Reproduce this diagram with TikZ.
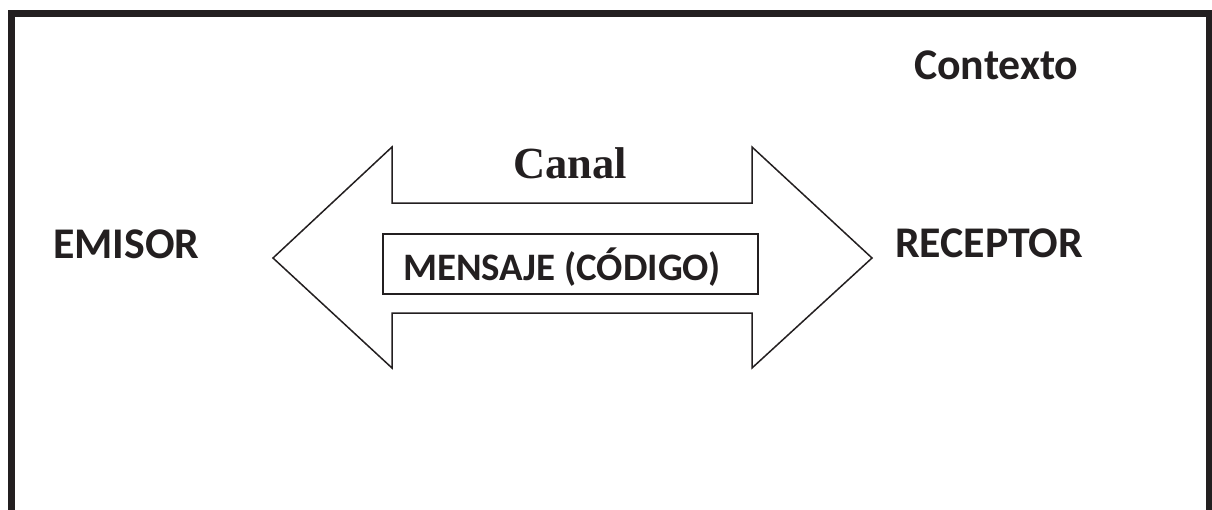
\documentclass[tikz,border=0pt]{standalone}
\usepackage{fontspec}
\setmainfont{Carlito}
\newfontfamily\serifbold{Liberation Serif}
\definecolor{ink}{HTML}{231F20}
\begin{document}
\begin{tikzpicture}[x=1pt,y=-1pt,
  frame/.style={draw=ink,line width=7pt},
  outline/.style={draw=ink,line width=1.5pt,line join=miter},
  label/.style={inner sep=0pt,anchor=base west,text=ink,font=\bfseries\fontsize{43.8}{50}\selectfont},
  canallabel/.style={inner sep=0pt,anchor=base west,text=ink,font=\serifbold\bfseries\fontsize{44.5}{50}\selectfont}]
\useasboundingbox (0,0) rectangle (1212,509);
% open frame around the scene
\draw[frame] (11,515) -- (11,13) -- (1209,13) -- (1209,515);
% two-headed channel arrow
\draw[outline] (273,258) -- (392,147) -- (392,203) -- (752,203) -- (752,147)
  -- (872,258) -- (752,368) -- (752,313) -- (392,313) -- (392,368) -- cycle;
% message box
\draw[outline] (383,234) rectangle (758,294);
\node[label] (msg) at (403,280) {\fontsize{38.9}{44}\selectfont MENSAJE (CÓDIGO)};
\node[canallabel] (canal) at (513,178) {Canal};
\node[label] (emisor) at (53,258) {EMISOR};
\node[label] (receptor) at (895,257) {RECEPTOR};
\node[label] (contexto) at (914,79) {Contexto};
\end{tikzpicture}
\end{document}
